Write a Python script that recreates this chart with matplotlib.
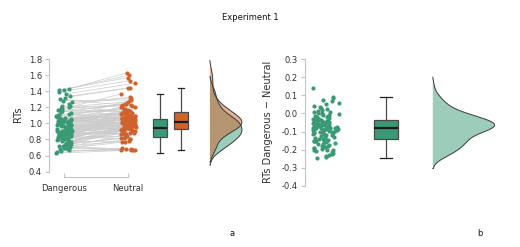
import numpy as np
import matplotlib
matplotlib.use("Agg")
import matplotlib.pyplot as plt

# RTs per participant in the "Dangerous" condition (sorted)
dangerous = [0.63, 0.64, 0.66, 0.67, 0.68, 0.69, 0.69, 0.70, 0.71, 0.72, 0.72, 0.73,
             0.73, 0.74, 0.75, 0.75, 0.76, 0.77, 0.77, 0.78, 0.78, 0.79, 0.79, 0.80,
             0.80, 0.81, 0.81, 0.82, 0.82, 0.83,
             0.835, 0.84, 0.84, 0.845, 0.85, 0.85, 0.855, 0.86, 0.86, 0.865,
             0.87, 0.87, 0.875, 0.88, 0.88, 0.885, 0.89, 0.89, 0.895, 0.90,
             0.90, 0.905, 0.91, 0.91, 0.915, 0.92, 0.925, 0.93, 0.935, 0.94,
             0.945, 0.95, 0.955, 0.96, 0.96, 0.965, 0.97, 0.975, 0.98, 0.98,
             0.985, 0.99, 0.995, 1.00, 1.00, 1.005, 1.01, 1.015, 1.02, 1.02,
             1.025, 1.03, 1.03, 1.035, 1.04, 1.04, 1.045, 1.045, 1.05, 1.05,
             1.055, 1.06, 1.07, 1.075, 1.08, 1.09, 1.10, 1.11, 1.12, 1.13,
             1.14, 1.15, 1.16, 1.17, 1.18, 1.19, 1.20, 1.21, 1.22, 1.24,
             1.26, 1.28, 1.30, 1.32, 1.34, 1.365, 1.39, 1.41, 1.42, 1.43]

# difference Dangerous - Neutral for the same participants
diff = [-0.04, -0.05, -0.02, 0.0, -0.09, 0.015, -0.12, 0.03, -0.15, -0.06, 0.04, -0.20,
        -0.19, -0.08, -0.245, -0.063, -0.165, -0.11, -0.21, 0.006, -0.145, -0.095,
        -0.23, -0.042, -0.17, -0.13, -0.155, -0.025, -0.205, -0.085, -0.18, -0.075,
        -0.24, -0.10, -0.15, 0.05, -0.08,
        -0.195, -0.05, -0.14, -0.01, -0.225, -0.036, -0.09, -0.16, -0.068, -0.115,
        0.02, -0.175, -0.055, -0.08, -0.235, -0.04, -0.105, -0.034, -0.145, -0.078,
        -0.085, -0.125, -0.046, 0.075, -0.08,
        -0.06, -0.095, -0.003, -0.19, -0.039, 0.01, -0.11, -0.07, -0.018, -0.215,
        -0.052, -0.09, 0.093, -0.043, -0.13, -0.155, -0.065, -0.028, -0.08, -0.037,
        0.035, -0.17, -0.058, -0.105, -0.008,
        -0.07, 0.06, -0.085, -0.048, -0.015, -0.22, 0.003, -0.038, -0.115, -0.03,
        -0.066, 0.14, -0.053, -0.10, -0.005, -0.073, 0.025, -0.185, -0.045, -0.022,
        -0.056, 0.085, -0.08, -0.062, -0.012, 0.07,
        -0.12, -0.10, -0.135, -0.14, -0.16, -0.18, -0.20]

conditions = ["Dangerous", "Neutral"]
left_yticks = [0.4, 0.6, 0.8, 1.0, 1.2, 1.4, 1.6, 1.8]
right_yticks = [-0.4, -0.3, -0.2, -0.1, 0.0, 0.1, 0.2, 0.3]

dangerous = np.array(dangerous)
diff = np.array(diff)
neutral = dangerous - diff

green = "#3a9a76"
orange = "#d1622b"
edge = "#4a4a4a"
spine_col = "#c4c4c4"
txt = "#333333"

plt.rcParams["font.family"] = ["DejaVu Sans"]
plt.rcParams["font.size"] = 6


def kde(vals, grid, bw):
    d = np.exp(-0.5 * ((grid[:, None] - vals[None, :]) / bw) ** 2).sum(1)
    return d / d.max()


def half_violin(ax, vals, base, width, bw, color):
    grid = np.linspace(vals.min() - 2 * bw, vals.max() + 2 * bw, 300)
    d = kde(vals, grid, bw) * width
    ax.fill_betweenx(grid, base, base + d, facecolor=color, alpha=0.5, lw=0, zorder=2)
    xs = np.concatenate([[base], base + d, [base]])
    ys = np.concatenate([[grid[0]], grid, [grid[-1]]])
    ax.plot(xs, ys, color="#3a3a3a", lw=0.7, zorder=3)


def boxes(ax, data, pos, width, colors):
    bp = ax.boxplot(data, positions=pos, widths=width, patch_artist=True,
                    showfliers=False, manage_ticks=False, zorder=3,
                    boxprops=dict(edgecolor=edge, linewidth=0.9),
                    whiskerprops=dict(color=edge, linewidth=0.9),
                    capprops=dict(color="#222222", linewidth=0.9),
                    medianprops=dict(color="#1a1a1a", linewidth=1.6))
    for p, c in zip(bp["boxes"], colors):
        p.set_facecolor(c)


def jitter(n, amp, seed):
    # deterministic hash-like spread of the strip positions
    u = np.sin((np.arange(n) + seed) * 12.9898) * 43758.5453
    return ((u % 1) - 0.5) * 2 * amp


fig = plt.figure(figsize=(5.2, 2.47), dpi=100)
W, H = 520.0, 247.0

# ---------- panel a ----------
ax1 = fig.add_axes([49 / W, 1 - 177 / H, (250 - 49) / W, (177 - 58.2) / H])
n = len(dangerous)
xd = 0 + jitter(n, 0.12, 1.3)
xn = 1 + jitter(n, 0.12, 7.7)
for i in range(n):
    ax1.plot([xd[i], xn[i]], [dangerous[i], neutral[i]], color="#cccccc", lw=0.5, zorder=1)
ax1.scatter(xd, dangerous, s=9, color=green, lw=0, zorder=2)
ax1.scatter(xn, neutral, s=9, color=orange, lw=0, zorder=2)
boxes(ax1, [dangerous, neutral], [1.5, 1.83], 0.21, [green, orange])
half_violin(ax1, dangerous, 2.28, 0.5, 0.075, green)
half_violin(ax1, neutral, 2.28, 0.5, 0.075, orange)

ax1.set_xlim(-0.234, 2.906)
ax1.set_ylim(0.334, 1.81)
ax1.set_xticks([0, 1])
ax1.set_xticklabels(conditions)
ax1.set_yticks(left_yticks)
ax1.set_yticklabels(["%.1f" % v for v in left_yticks])
for s in ["top", "right"]:
    ax1.spines[s].set_visible(False)
ax1.spines["left"].set_bounds(0.4, 1.8)
ax1.spines["bottom"].set_bounds(0, 1)
for s in ["left", "bottom"]:
    ax1.spines[s].set_color(spine_col)
    ax1.spines[s].set_linewidth(0.8)
ax1.tick_params(axis="y", direction="out", length=3, width=0.8, color=spine_col,
                labelcolor=txt, labelsize=6, pad=2)
ax1.tick_params(axis="x", direction="in", length=3, width=0.8, color=spine_col,
                labelcolor=txt, labelsize=6, pad=5)

# ---------- panel b ----------
ax2 = fig.add_axes([305 / W, 1 - 186.5 / H, (500 - 305) / W, (186.5 - 58.5) / H])
xs = 0 + jitter(n, 0.22, 3.1)
ax2.scatter(xs, diff, s=9, color=green, lw=0, zorder=2)
boxes(ax2, [diff], [1.0], 0.4, [green])
half_violin(ax2, diff, 1.78, 1.03, 0.03, green)

ax2.set_xlim(-0.35, 2.9)
ax2.set_ylim(-0.4044, 0.3044)
ax2.set_xticks([])
ax2.set_yticks(right_yticks)
ax2.set_yticklabels(["%.1f" % v if v != 0 else "0.0" for v in right_yticks])
for s in ["top", "right", "bottom"]:
    ax2.spines[s].set_visible(False)
ax2.spines["left"].set_bounds(-0.4, 0.3)
ax2.spines["left"].set_color(spine_col)
ax2.spines["left"].set_linewidth(0.8)
ax2.tick_params(axis="y", direction="out", length=3, width=0.8, color=spine_col,
                labelcolor=txt, labelsize=6, pad=2)

# ---------- texts ----------
fig.text(18 / W, 1 - 114 / H, "RTs", rotation=90, ha="center", va="center",
         fontsize=7, color=txt)
fig.text(268 / W, 1 - 122 / H, "RTs Dangerous \u2212 Neutral", rotation=90,
         ha="center", va="center", fontsize=7, color=txt)
fig.text(250 / W, 1 - 18 / H, "Experiment 1", ha="center", va="center",
         fontsize=6, color="#111111")
fig.text(232 / W, 1 - 234 / H, "a", ha="center", va="center", fontsize=6, color="#111111")
fig.text(480 / W, 1 - 234 / H, "b", ha="center", va="center", fontsize=6, color="#111111")

fig.savefig("out.png", dpi=100)
